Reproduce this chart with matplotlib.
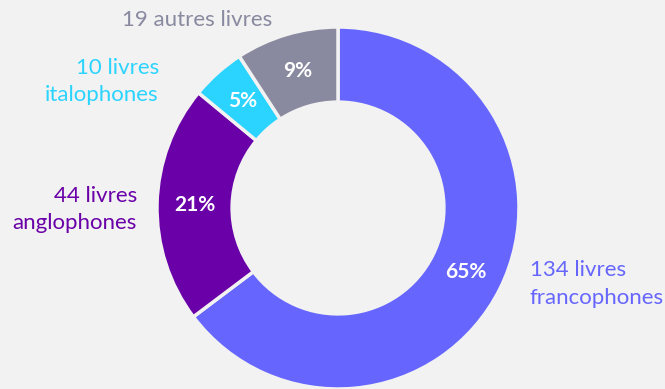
import matplotlib
matplotlib.use('Agg')
import matplotlib.pyplot as plt

# Livres par langue
categories = ["francophones", "anglophones", "italophones", "autres"]
counts = [134, 44, 10, 19]
couleurs = ["#6666FF", "#6A00A8", "#2BD4FF", "#8989A0"]

plt.rcParams['font.family'] = ['Lato', 'DejaVu Sans']

fig = plt.figure(figsize=(6.65, 3.89), dpi=100)
fig.patch.set_facecolor("#F2F2F2")

# axes carre autour de l'anneau
cx, cy, r = 338, 208, 181
ax = fig.add_axes([(cx - r) / 665, (389 - cy - r) / 389, 2 * r / 665, 2 * r / 389])
ax.set_facecolor("#F2F2F2")

wedges, textes, pcts = ax.pie(
    counts, colors=couleurs, startangle=90, counterclock=False,
    autopct='%.0f%%', pctdistance=0.79, radius=1,
    wedgeprops=dict(width=0.415, edgecolor="#F2F2F2", linewidth=2.5),
    textprops=dict(color="white", fontsize=15, fontweight="bold"))
ax.set_xlim(-1, 1)
ax.set_ylim(-1, 1)
ax.set_aspect('equal')
ax.axis('off')

# etiquettes exterieures
style = dict(fontsize=16, va="center", linespacing=1.45, clip_on=False)
ax.text(1.06, -0.42, f"{counts[0]} livres\nfrancophones", color=couleurs[0],
        ha="left", **style)
ax.text(-1.11, -0.01, f"{counts[1]} livres\nanglophones", color=couleurs[1],
        ha="right", **style)
ax.text(-0.99, 0.70, f"{counts[2]} livres\nitalophones", color=couleurs[2],
        ha="right", **style)
ax.text(-0.78, 1.04, f"{counts[3]} autres livres", color=couleurs[3],
        ha="center", **style)

fig.savefig("out.png", dpi=100, facecolor=fig.get_facecolor())
